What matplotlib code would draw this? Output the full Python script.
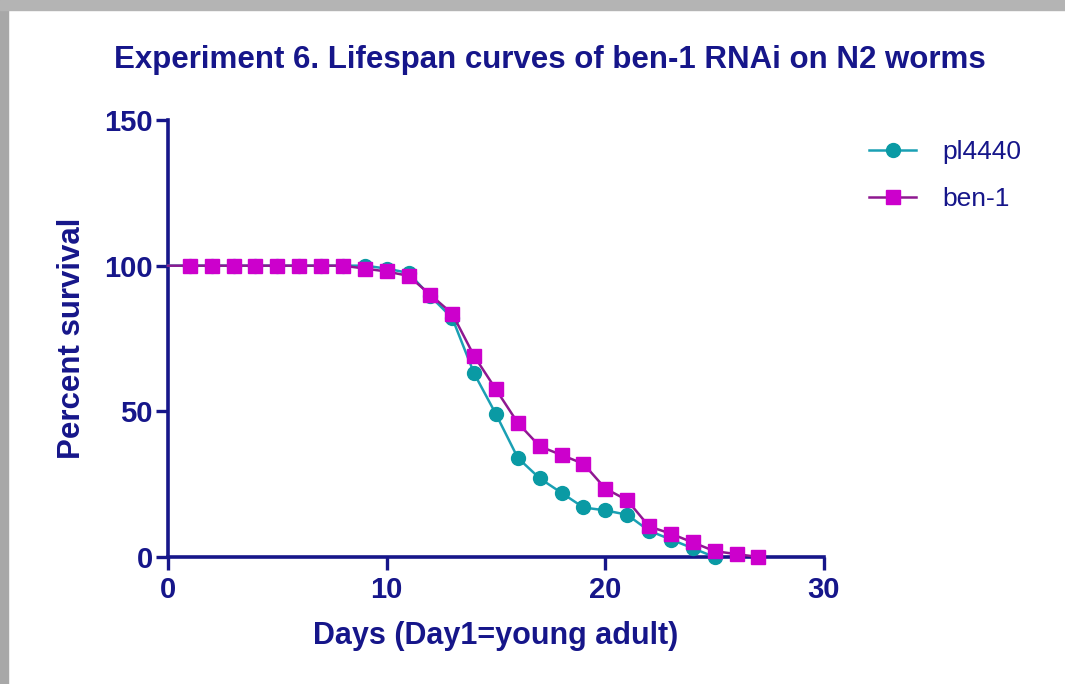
import matplotlib.pyplot as plt
from matplotlib.patches import Rectangle

plt.rcParams['font.family'] = ['Liberation Sans', 'DejaVu Sans']

navy = '#16168a'

days_pl = list(range(0, 26))
surv_pl = [100, 100, 100, 100, 100, 100, 100, 100, 100, 100, 99, 97.5, 89.5, 82,
           63, 49, 34, 27, 22, 17, 16, 14.5, 9, 6, 3, 0]
days_ben = list(range(0, 28))
surv_ben = [100, 100, 100, 100, 100, 100, 100, 100, 100, 99, 98, 96.5, 90, 83.5,
            69, 57.5, 46, 38, 35, 32, 23.5, 19.5, 10.5, 8, 5, 2, 1, 0]

labels = ['pl4440', 'ben-1']
x_ticks = [0, 10, 20, 30]
y_ticks = [0, 50, 100, 150]

W, H = 1065, 684
fig = plt.figure(figsize=(W / 100, H / 100), dpi=100)

# grey frame on left and top edges
fig.patches.append(Rectangle((0, 0), 8 / W, 1, transform=fig.transFigure,
                             color='#a8a8a8', zorder=0))
fig.patches.append(Rectangle((0, 1 - 10 / H), 1, 10 / H, transform=fig.transFigure,
                             color='#b4b4b4', zorder=0))

ax = fig.add_axes([168 / W, 1 - 557 / H, (824 - 168) / W, (557 - 120) / H])

ax.plot(days_pl, surv_pl, color='#1aa0b4', lw=1.8, marker='o', ms=10,
        mfc='#0a9aa4', mec='#0a9aa4', markevery=range(1, len(days_pl)),
        label=labels[0], clip_on=False, zorder=3)
ax.plot(days_ben, surv_ben, color='#8e1890', lw=1.8, marker='s', ms=10,
        mfc='#cc00cc', mec='#cc00cc', markevery=range(1, len(days_ben)),
        label=labels[1], clip_on=False, zorder=4)

ax.set_xlim(0, 30)
ax.set_ylim(0, 150)
ax.set_xticks(x_ticks)
ax.set_yticks(y_ticks)

for s in ['top', 'right']:
    ax.spines[s].set_visible(False)
for s in ['left', 'bottom']:
    ax.spines[s].set_color(navy)
    ax.spines[s].set_linewidth(2.6)

ax.tick_params(colors=navy, width=2.4, length=9, labelsize=21)
ax.tick_params(axis='x', pad=5)
ax.tick_params(axis='y', pad=2)
for t in ax.get_xticklabels() + ax.get_yticklabels():
    t.set_fontweight('bold')

ax.set_xlabel('Days (Day1=young adult)', fontsize=22, fontweight='bold',
              color=navy, labelpad=12)
ax.set_ylabel('Percent survival', fontsize=22.5, fontweight='bold',
              color=navy, labelpad=12)

fig.text(550 / W, 1 - 60 / H, 'Experiment 6. Lifespan curves of ben-1 RNAi on N2 worms',
         ha='center', va='center', fontsize=22.5, fontweight='bold', color=navy)

leg = ax.legend(loc='upper left', bbox_to_anchor=(845 / W, 1 - 116 / H),
                bbox_transform=fig.transFigure, frameon=False, fontsize=19,
                handlelength=1.8, handletextpad=1.0, labelspacing=0.9)
for t in leg.get_texts():
    t.set_color(navy)

fig.savefig('out.png', dpi=100, facecolor='white')
